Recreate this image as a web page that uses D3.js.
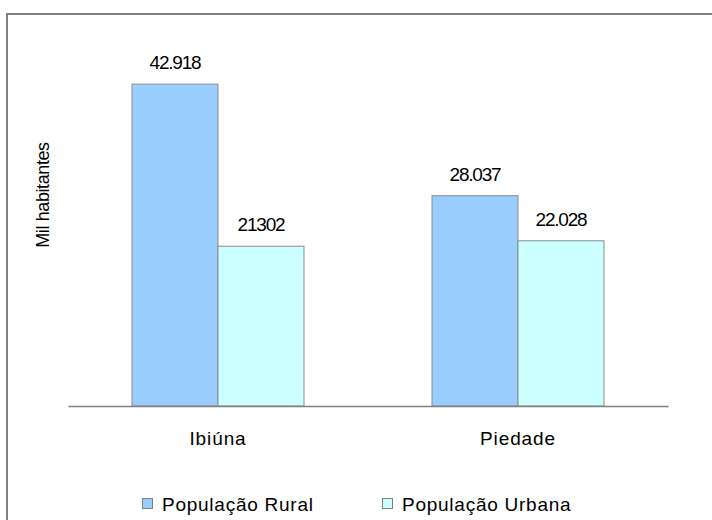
<!DOCTYPE html>
<html>
<head>
<meta charset="utf-8">
<script src="https://cdn.jsdelivr.net/npm/d3@7"></script>
<style>
  html, body { margin: 0; padding: 0; background: #ffffff; }
  svg { display: block; font-family: "Liberation Sans", Arial, sans-serif; }
</style>
</head>
<body>
<svg id="chart" width="712" height="520"></svg>
<script>
// Population of two municipalities, split into rural and urban (thousands)
const municipios = ["Ibiúna", "Piedade"];
const series = ["População Rural", "População Urbana"];
const rural = [42.918, 28.037];
const urbana = [21.302, 22.028];
const valueLabels = [["42.918", "28.037"], ["21302", "22.028"]];
const yTitle = "Mil habitantes";

const colors = ["#99ccff", "#ccffff"];
const values = [rural, urbana];

const svg = d3.select("#chart");
const W = 712, H = 520;
const plot = { left: 68, right: 668, top: 31, bottom: 406 };

// Outer chart border
svg.append("rect")
  .attr("x", 7).attr("y", 14)
  .attr("width", W + 20).attr("height", H + 20)
  .attr("fill", "#ffffff")
  .attr("stroke", "#808080")
  .attr("stroke-width", 2);

const x0 = d3.scaleBand().domain(municipios).range([plot.left, plot.right]).padding(0);
const groupWidth = 172;
const x1 = d3.scaleBand().domain(series).range([0, groupWidth]).padding(0);
const y = d3.scaleLinear().domain([0, 50]).range([plot.bottom, plot.top]);

const groupOffset = (x0.bandwidth() - groupWidth) / 2;

const rows = [];
series.forEach((s, si) => {
  municipios.forEach((m, mi) => {
    rows.push({ serie: s, si, municipio: m, value: values[si][mi], label: valueLabels[si][mi] });
  });
});

const bars = svg.append("g");
bars.selectAll("rect")
  .data(rows)
  .join("rect")
  .attr("x", d => x0(d.municipio) + groupOffset + x1(d.serie))
  .attr("y", d => y(d.value))
  .attr("width", x1.bandwidth())
  .attr("height", d => y(0) - y(d.value))
  .attr("fill", d => colors[d.si])
  .attr("stroke", "#8c8c8c")
  .attr("stroke-width", 1);

// Value labels above each bar
svg.append("g").selectAll("text")
  .data(rows)
  .join("text")
  .attr("x", d => x0(d.municipio) + groupOffset + x1(d.serie) + x1.bandwidth() / 2)
  .attr("y", d => y(d.value) - 15)
  .attr("text-anchor", "middle")
  .attr("font-size", 19)
  .attr("letter-spacing", -1.2)
  .attr("fill", "#000")
  .text(d => d.label);

// Category axis baseline and labels
const xAxis = d3.axisBottom(x0).tickSize(0).tickPadding(0);
const gx = svg.append("g")
  .attr("transform", `translate(0,${plot.bottom})`)
  .call(xAxis);
gx.attr("font-size", 19).attr("font-family", "Liberation Sans, Arial, sans-serif");
gx.select(".domain").attr("stroke", "#808080").attr("stroke-width", 1.3);
gx.selectAll(".tick text")
  .attr("dy", 0)
  .attr("y", 39)
  .attr("font-size", 19)
  .attr("letter-spacing", 0.9)
  .attr("fill", "#000");

// Vertical axis title
svg.append("text")
  .attr("transform", "translate(49,195) rotate(-90)")
  .attr("text-anchor", "middle")
  .attr("font-size", 18)
  .attr("letter-spacing", -0.4)
  .attr("fill", "#000")
  .text(yTitle);

// Legend
const legendX = [142, 382];
const legend = svg.append("g");
series.forEach((s, i) => {
  legend.append("rect")
    .attr("x", legendX[i] + 0.5).attr("y", 498.5)
    .attr("width", 10).attr("height", 10)
    .attr("fill", colors[i])
    .attr("stroke", "#808080")
    .attr("stroke-width", 1);
  legend.append("text")
    .attr("x", legendX[i] + 20)
    .attr("y", 511)
    .attr("font-size", 19)
    .attr("letter-spacing", 0.75)
    .attr("fill", "#000")
    .text(s);
});
</script>
</body>
</html>
